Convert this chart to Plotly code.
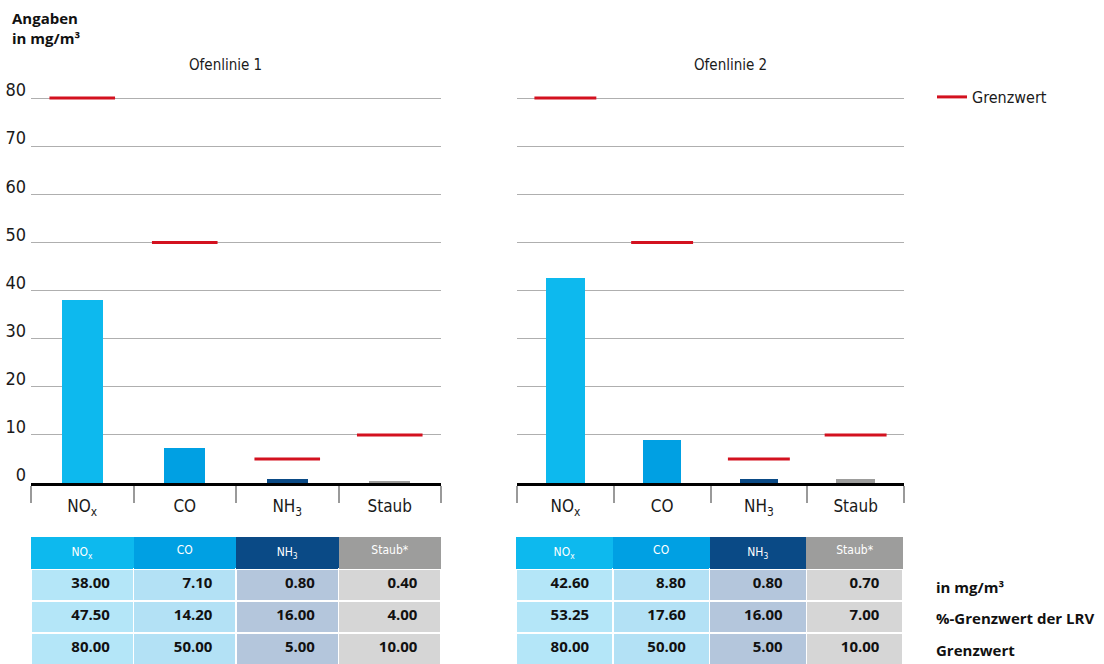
import plotly.graph_objects as go
from plotly.subplots import make_subplots

# Schadstoffe und Messwerte der beiden Ofenlinien (mg/m³)
categories = ["NO<sub>x</sub>", "CO", "NH<sub>3</sub>", "Staub"]
header_labels = ["NO<sub>x</sub>", "CO", "NH<sub>3</sub>", "Staub*"]
ofen1_values = [38.00, 7.10, 0.80, 0.40]
ofen2_values = [42.60, 8.80, 0.80, 0.70]
ofen1_pct = [47.50, 14.20, 16.00, 4.00]
ofen2_pct = [53.25, 17.60, 16.00, 7.00]
grenzwert = [80.00, 50.00, 5.00, 10.00]
y_ticks = [0, 10, 20, 30, 40, 50, 60, 70, 80]
row_labels = ["in mg/m³", "%-Grenzwert der LRV", "Grenzwert"]
panel_titles = ["Ofenlinie 1", "Ofenlinie 2"]

W, H = 1104, 664
bar_colors = ["#0DB9EE", "#00A0E3", "#0A4A86", "#9D9D9C"]
cell_colors = ["#B4E6F8", "#B3E1F5", "#B4C6DC", "#D6D6D6"]
red = "#D3111F"
grid = "#AFAFAF"
cond = "Liberation Sans Narrow, DejaVu Sans Condensed, Roboto"
bold = "Open Sans"

xpos = list(range(len(categories)))

fig = make_subplots(rows=1, cols=2)

def px_x(p):
    return p / W

def px_y(p):
    return (H - p) / H

half = 0.32
for col, vals in ((1, ofen1_values), (2, ofen2_values)):
    fig.add_trace(go.Bar(x=xpos, y=vals, width=0.4, marker=dict(color=bar_colors, line_width=0),
                         showlegend=False, hoverinfo="y"), row=1, col=col)
    lx, ly = [], []
    for i, g in zip(xpos, grenzwert):
        lx += [i - half, i + half, None]
        ly += [g, g, None]
    fig.add_trace(go.Scatter(x=lx, y=ly, mode="lines", line=dict(color=red, width=3),
                             name="Grenzwert", showlegend=(col == 1), hoverinfo="skip"),
                  row=1, col=col)

y_dom = [px_y(483), px_y(483 - 82 * (385 / 80))]
x_doms = [[px_x(31), px_x(441)], [px_x(517), px_x(904)]]

axis_common = dict(
    range=[-0.5, 3.5], tickmode="array", tickvals=xpos, ticktext=categories,
    ticks="", showgrid=False, zeroline=False, automargin=False,
    showline=True, linecolor="#000000", linewidth=3,
    tickfont=dict(family=cond, size=17, color="#1a1a1a"),
    ticklabelstandoff=6,
    minor=dict(tickmode="array", tickvals=[-0.5, 0.5, 1.5, 2.5, 3.5], ticks="outside",
               ticklen=17, tickwidth=1.5, tickcolor="#9a9a9a", showgrid=False),
)
fig.update_layout(
    xaxis=dict(domain=x_doms[0], **axis_common),
    xaxis2=dict(domain=x_doms[1], **axis_common),
    yaxis=dict(domain=y_dom, range=[0, 82], tickvals=y_ticks, showgrid=True, gridcolor=grid,
               gridwidth=1.2, zeroline=False, ticks="", ticklabelshift=-8, ticklabelstandoff=4,
               automargin=False, tickfont=dict(family=cond, size=18, color="#1a1a1a")),
    yaxis2=dict(domain=y_dom, range=[0, 82], tickvals=y_ticks, showgrid=True, gridcolor=grid,
                gridwidth=1.2, zeroline=False, showticklabels=False, ticks="", automargin=False),
)

# Wertetabellen unter den Diagrammen
def fmt(v):
    return "%.2f" % v + "\u00a0" * 4

for dom, vals, pct in ((x_doms[0], ofen1_values, ofen1_pct), ([px_x(516), px_x(904)], ofen2_values, ofen2_pct)):
    columns = [[fmt(a), fmt(b), fmt(c)] for a, b, c in zip(vals, pct, grenzwert)]
    fig.add_trace(go.Table(
        domain=dict(x=dom, y=[0, px_y(537)]),
        header=dict(values=header_labels, fill_color=bar_colors, align="center", height=32,
                    line=dict(color="white", width=0),
                    font=dict(family=cond, size=12, color="white")),
        cells=dict(values=columns, fill_color=cell_colors, align="right", height=32,
                   line=dict(color="white", width=1.5),
                   font=dict(family=bold, size=15, color="#111111", weight="bold")),
    ))

annotations = [
    dict(x=px_x(10), y=px_y(6), xref="paper", yref="paper", xanchor="left", yanchor="top",
         text="<b>Angaben<br>in mg/m³</b>", align="left", showarrow=False,
         font=dict(family=bold, size=15, color="#111111")),
]
for title, cx in zip(panel_titles, (225, 730)):
    annotations.append(dict(x=px_x(cx), y=px_y(65), xref="paper", yref="paper", xanchor="center",
                            yanchor="middle", text=title, showarrow=False,
                            font=dict(family=cond, size=15, color="#1a1a1a")))
for lab, cy in zip(row_labels, (587, 618, 650)):
    annotations.append(dict(x=px_x(934), y=px_y(cy), xref="paper", yref="paper", xanchor="left",
                            yanchor="middle", text="<b>%s</b>" % lab, showarrow=False,
                            font=dict(family=bold, size=15, color="#111111")))

fig.update_layout(
    width=W, height=H, margin=dict(l=0, r=0, t=0, b=0, autoexpand=False),
    paper_bgcolor="white", plot_bgcolor="white",
    annotations=annotations,
    legend=dict(x=px_x(932), y=px_y(97), xanchor="left", yanchor="middle",
                font=dict(family=cond, size=16, color="#1a1a1a"), bgcolor="rgba(0,0,0,0)"),
    bargap=0,
)

fig.write_html("out.html")
